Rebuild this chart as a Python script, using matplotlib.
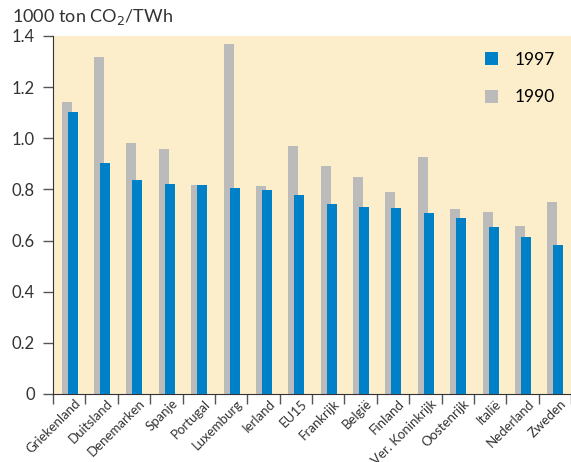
import numpy as np
import matplotlib
matplotlib.use("Agg")
import matplotlib.pyplot as plt

plt.rcParams['font.family'] = ['Lato', 'DejaVu Sans']

# Data
countries = ["Griekenland", "Duitsland", "Denemarken", "Spanje", "Portugal",
             "Luxemburg", "Ierland", "EU15", "Frankrijk", "België", "Finland",
             "Ver. Koninkrijk", "Oostenrijk", "Italië", "Nederland", "Zweden"]
values_1990 = [1.142, 1.318, 0.982, 0.958, 0.817, 1.369, 0.813, 0.970,
               0.892, 0.849, 0.790, 0.927, 0.723, 0.712, 0.657, 0.751]
values_1997 = [1.103, 0.903, 0.837, 0.821, 0.817, 0.806, 0.798, 0.778,
               0.743, 0.731, 0.727, 0.708, 0.688, 0.653, 0.614, 0.583]

blue = "#0080C6"
grey = "#BBBBBB"
bg = "#FDEECB"

fig = plt.figure(figsize=(5.71, 4.62), dpi=100)
ax = fig.add_axes([53 / 571, 68 / 462, 1 - 53 / 571, 358 / 462])
ax.set_facecolor(bg)

x = np.arange(len(countries))
w = 0.31
ax.bar(x - 0.077, values_1990, width=w, color=grey, label="1990", zorder=2)
ax.bar(x + 0.108, values_1997, width=w, color=blue, label="1997", zorder=3)

ax.set_xlim(-0.5, len(countries) - 0.5)
ax.set_ylim(0, 1.4)
ax.set_yticks(np.arange(0, 1.41, 0.2))
ax.set_yticklabels(["0", "0.2", "0.4", "0.6", "0.8", "1.0", "1.2", "1.4"])

ax.set_xticks(x + 0.16)
ax.set_xticklabels(countries, rotation=45, ha="right", rotation_mode="anchor")
ax.set_xticks(np.arange(-0.5, len(countries), 1.0), minor=True)
ax.tick_params(axis="x", which="major", length=0, pad=2.5, labelsize=9.5, colors="#333333")
ax.tick_params(axis="x", which="minor", length=7, width=1, color="#555555")
ax.tick_params(axis="y", length=7, width=1, labelsize=12, pad=6,
               color="#555555", labelcolor="#333333")

for s in ["top", "right"]:
    ax.spines[s].set_visible(False)
ax.spines["left"].set_color("#333333")
ax.spines["bottom"].set_color("#333333")

handles, labels = ax.get_legend_handles_labels()
ax.legend(handles[::-1], labels[::-1], loc="upper right", frameon=False,
          handlelength=0.75, handleheight=0.75, labelspacing=1.25, fontsize=12.5,
          borderaxespad=0.5, handletextpad=1.0)

fig.text(12 / 571, 1 - 17 / 462, "1000 ton CO$_2$/TWh", fontsize=13,
         color="#333333", va="center", ha="left")

fig.savefig("out.png", dpi=100)
